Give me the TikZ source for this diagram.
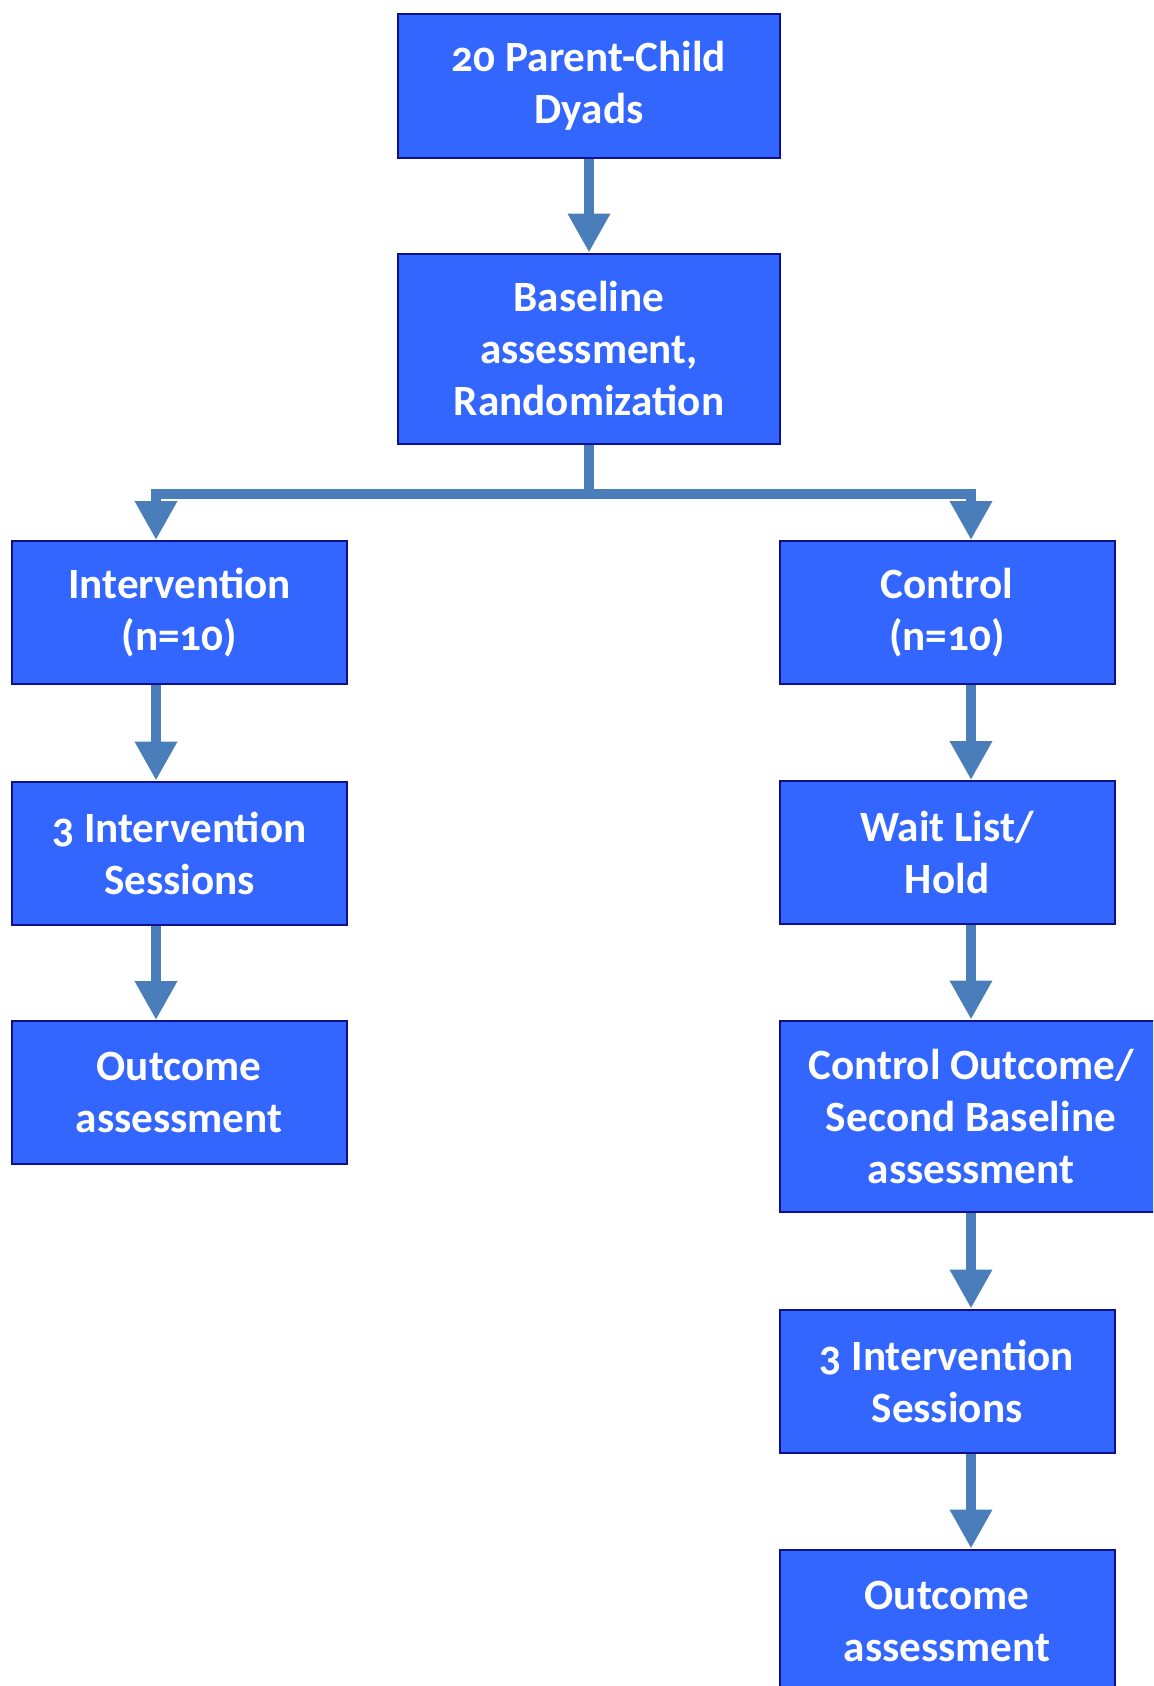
\documentclass[tikz,border=0pt]{standalone}
\usepackage{fontspec}
\setmainfont{Carlito}[Numbers=OldStyle]
\usetikzlibrary{arrows.meta, positioning, calc}
\definecolor{boxblue}{HTML}{3366FF}
\definecolor{boxedge}{HTML}{10108A}
\definecolor{steel}{HTML}{4A7EBB}

\begin{document}
\begin{tikzpicture}[
  x=0.5pt, y=-0.5pt,
  box/.style={draw=boxedge, line width=1pt, fill=boxblue, text=white,
    font=\fontsize{21.6}{26}\selectfont\bfseries, align=center,
    inner sep=0pt, minimum width=167.5pt, minimum height=71.5pt},
  widebox/.style={box, minimum width=191pt},
  flow/.style={steel, line width=5pt,
    -{Triangle[width=20pt, length=19.5pt]}},
]

% Page
\useasboundingbox (0,0) rectangle (1153,1686);
\clip (0,0) rectangle (1153,1686);

% ========================================
% Top: enrolment and randomization
% ========================================
\node[widebox] (dyads) at (589,86) {20 Parent-Child\\Dyads};
\node[widebox, minimum height=95pt] (base) at (589,348.5)
  {Baseline\\assessment,\\Randomization};

% ========================================
% Left arm: intervention
% ========================================
\node[box] (inter) at (179.5,612.5) {Intervention\\(n=10)};
\node[box] (isess) at (179.5,853) {3 Intervention\\Sessions};
\node[box] (ioutc) at (179,1092.5) {Outcome\\assessment};

% ========================================
% Right arm: control / wait list
% ========================================
\node[box] (ctrl) at (947,612.5) {Control\\(n=10)};
\node[box] (wait) at (947,852.5) {Wait List/\\Hold};
\node[widebox, minimum height=95.5pt] (cbase) at (971,1116)
  {Control Outcome/\\Second Baseline\\assessment};
\node[box] (csess) at (947,1381) {3 Intervention\\Sessions};
\node[box] (coutc) at (947,1621) {Outcome\\assessment};

% Arrow columns
\coordinate (lx) at (156,0);
\coordinate (rx) at (971,0);
\coordinate (split) at ($(base.south)+(0,49)$);

% Connectors
\draw[flow] (base.south) -- (split) -| (inter.north -| lx);
\draw[flow] (base.south) -- (split) -| (ctrl.north -| rx);
\draw[flow] (dyads.south) -- (base.north);

\draw[flow] (inter.south -| lx) -- (isess.north -| lx);
\draw[flow] (isess.south -| lx) -- (ioutc.north -| lx);

\draw[flow] (ctrl.south -| rx) -- (wait.north -| rx);
\draw[flow] (wait.south -| rx) -- (cbase.north -| rx);
\draw[flow] (cbase.south -| rx) -- (csess.north -| rx);
\draw[flow] (csess.south -| rx) -- (coutc.north -| rx);

\end{tikzpicture}
\end{document}
